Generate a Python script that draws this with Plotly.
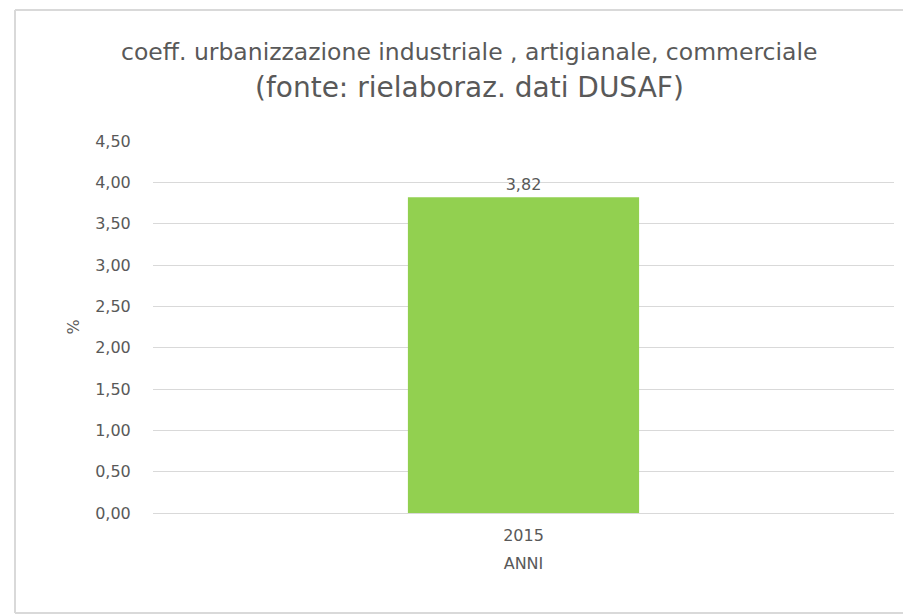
import plotly.graph_objects as go

categories = ["2015"]
values = [3.82]
value_labels = ["3,82"]
y_ticks = [0, 0.5, 1, 1.5, 2, 2.5, 3, 3.5, 4, 4.5]
y_tick_labels = ["0,00", "0,50", "1,00", "1,50", "2,00", "2,50", "3,00", "3,50", "4,00", "4,50"]
title_line1 = "coeff. urbanizzazione industriale , artigianale, commerciale"
title_line2 = "(fonte: rielaboraz. dati DUSAF)"

TXT = "#595959"
GRID = "#d9d9d9"
W, H = 903, 615

L, T = 153, 141
R = W - 894
B = H - 513
PW = W - L - R
PH = H - T - B

def px(x):
    return (x - L) / PW

def py(y):
    return (T + PH - y) / PH

fig = go.Figure(go.Bar(
    x=categories, y=values,
    marker=dict(color="#92d050", line=dict(width=0)),
    text=value_labels, textposition="outside",
    textfont=dict(family="DejaVu Sans", size=16, color=TXT),
    cliponaxis=False,
))

fig.update_layout(
    width=W, height=H,
    margin=dict(l=L, r=R, t=T, b=B),
    paper_bgcolor="white", plot_bgcolor="white",
    bargap=0.688,
    showlegend=False,
    font=dict(family="DejaVu Sans", color=TXT),
    xaxis=dict(
        showgrid=False, showline=True, linecolor=GRID, linewidth=1,
        ticks="outside", ticklen=8, tickcolor="rgba(0,0,0,0)",
        tickfont=dict(family="DejaVu Sans", size=16, color=TXT),
        title=dict(text="ANNI", font=dict(family="DejaVu Sans", size=16, color=TXT), standoff=13),
    ),
    yaxis=dict(
        range=[0, 4.5], tickvals=y_ticks, ticktext=y_tick_labels,
        showgrid=True, gridcolor=GRID, gridwidth=1, zeroline=False,
        showline=False, ticks="outside", ticklen=18, tickcolor="rgba(0,0,0,0)",
        tickfont=dict(family="DejaVu Sans", size=16, color=TXT),
        title=dict(text="%", font=dict(family="DejaVu Sans", size=16, color=TXT), standoff=11),
    ),
    annotations=[
        dict(text=title_line1, xref="paper", yref="paper", x=0.5, y=py(52),
             xanchor="center", yanchor="middle", showarrow=False,
             font=dict(family="DejaVu Sans", size=23.5, color=TXT), xshift=469 - (L + PW / 2)),
        dict(text=title_line2, xref="paper", yref="paper", x=0.5, y=py(88),
             xanchor="center", yanchor="middle", showarrow=False,
             font=dict(family="DejaVu Sans", size=28, color=TXT), xshift=469 - (L + PW / 2)),
    ],
    shapes=[
        dict(type="line", xref="paper", yref="paper", x0=px(15), x1=px(15), y0=py(613), y1=py(10),
             line=dict(color=GRID, width=2), layer="below"),
        dict(type="line", xref="paper", yref="paper", x0=px(15), x1=px(910), y0=py(10), y1=py(10),
             line=dict(color=GRID, width=2), layer="below"),
        dict(type="line", xref="paper", yref="paper", x0=px(15), x1=px(910), y0=py(613), y1=py(613),
             line=dict(color=GRID, width=2), layer="below"),
    ],
)

fig.write_html(
    "out.html",
    config={"displayModeBar": False},
    post_script="document.body.style.margin='0';document.body.style.overflow='hidden';",
)
